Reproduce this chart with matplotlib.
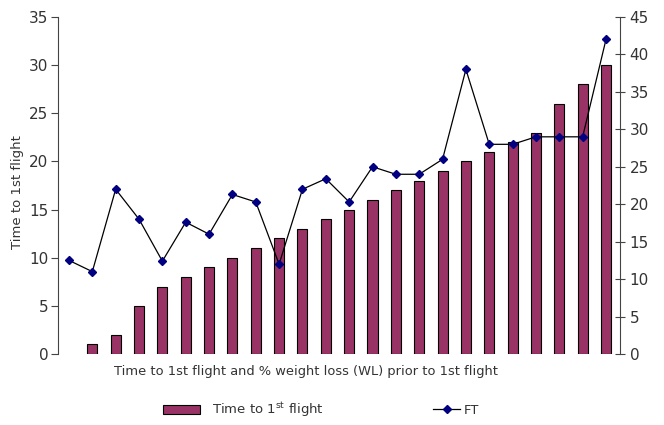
import matplotlib
matplotlib.use("Agg")
import matplotlib.pyplot as plt
import numpy as np
from matplotlib.lines import Line2D
from matplotlib.patches import Patch

plt.rcParams['font.family'] = ['DejaVu Sans']
plt.rcParams['mathtext.fontset'] = 'custom'
plt.rcParams['mathtext.rm'] = 'DejaVu Sans'

time_to_flight = [0, 1, 2, 5, 7, 8, 9, 10, 11, 12, 13, 14, 15, 16, 17, 18,
                  19, 20, 21, 22, 23, 26, 28, 30]
ft = [12.5, 11, 22, 18, 12.4, 17.6, 16, 21.3, 20.3, 12, 22, 23.4, 20.3, 25,
      24, 24, 26, 38, 28, 28, 29, 29, 29, 42]
left_ticks = [0, 5, 10, 15, 20, 25, 30, 35]
right_ticks = [0, 5, 10, 15, 20, 25, 30, 35, 40, 45]

x = np.arange(len(time_to_flight))
text_color = '#333333'

fig = plt.figure(figsize=(6.64, 4.25), dpi=100)
ax = fig.add_axes([58/664, 1 - 354/425, (620-58)/664, (354-17)/425])
bars = ax.bar(x, time_to_flight, width=0.43, color='#993366', edgecolor='black', linewidth=0.8, zorder=2)
for b, v in zip(bars, time_to_flight):
    if v == 0:
        b.set_visible(False)
ax.set_ylim(0, 35)
ax.set_xlim(-0.47, 23.6)
ax.set_yticks(left_ticks)
ax.set_xticks([])
for s in ['top', 'right', 'bottom']:
    ax.spines[s].set_visible(False)
ax.spines['left'].set_color('#444444')
ax.tick_params(axis='y', direction='out', length=5, pad=2, labelsize=11, colors='#444444', labelcolor=text_color)
fig.text(18/664, 1 - 192/425, 'Time to 1st flight', rotation=90, ha='center', va='center',
         fontsize=9.5, color=text_color)

ax2 = ax.twinx()
ax2.plot(x, ft, color='black', linewidth=0.9, marker='D', markersize=4.5,
         markerfacecolor='#000080', markeredgecolor='#000080', zorder=3)
ax2.set_ylim(0, 45)
ax2.set_yticks(right_ticks)
for s in ['top', 'left', 'bottom']:
    ax2.spines[s].set_visible(False)
ax2.spines['right'].set_color('#444444')
ax2.tick_params(axis='y', direction='inout', length=7, labelsize=11, colors='#444444', labelcolor=text_color)

fig.text(306/664, 1 - 372/425, 'Time to 1st flight and % weight loss (WL) prior to 1st flight',
         ha='center', va='center', fontsize=9.4, color=text_color)

h1 = Patch(facecolor='#993366', edgecolor='black', linewidth=0.8)
h2 = Line2D([], [], color='black', linewidth=0.9, marker='D', markersize=4.5,
            markerfacecolor='#000080', markeredgecolor='#000080')
leg1 = fig.legend([h1], ['Time to 1$^{\\mathrm{st}}$ flight'], loc='center left',
                  bbox_to_anchor=(163/664, 1 - 410/425), frameon=False, fontsize=9.5,
                  borderpad=0, borderaxespad=0, handlelength=2.8, handleheight=0.65,
                  handletextpad=0.9, labelcolor=text_color)
leg2 = fig.legend([h2], ['FT'], loc='center left',
                  bbox_to_anchor=(433/664, 1 - 410/425), frameon=False, fontsize=9.5,
                  borderpad=0, borderaxespad=0, handlelength=2.05,
                  handletextpad=0.25, labelcolor=text_color)

fig.savefig('out.png', dpi=100)
